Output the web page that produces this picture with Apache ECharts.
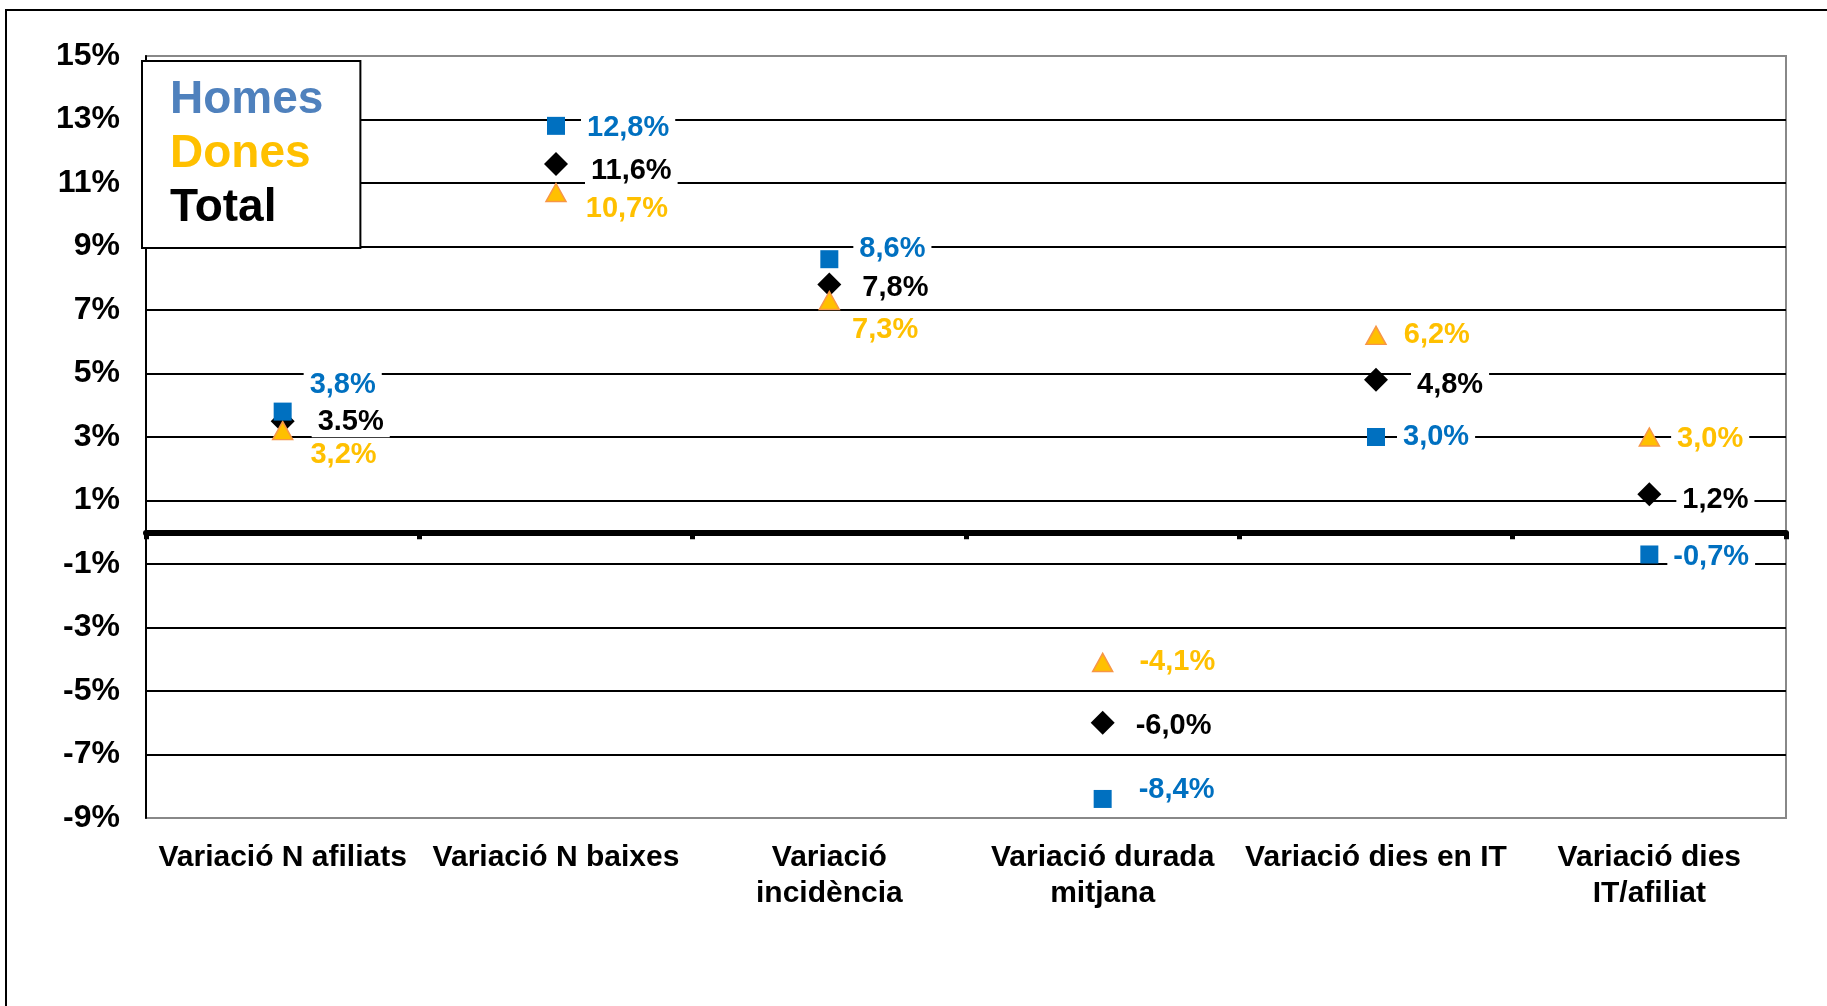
<!DOCTYPE html>
<html>
<head>
<meta charset="utf-8">
<script src="https://cdn.jsdelivr.net/npm/echarts@6/dist/echarts.min.js"></script>
<style>
  html, body { margin: 0; padding: 0; background: #fff; }
  #MyChart { width: 1827px; height: 1006px; }
</style>
</head>
<body>
<div id="MyChart"></div>
<script>
// dades llegides del gràfic
const categories = ['Variació N afiliats', 'Variació N baixes', 'Variació\nincidència',
  'Variació durada\nmitjana', 'Variació dies en IT', 'Variació dies\nIT/afiliat']
const homes = [3.8, 12.8, 8.6, -8.4, 3.0, -0.7]
const dones = [3.2, 10.7, 7.3, -4.1, 6.2, 3.0]
const total = [3.5, 11.6, 7.8, -6.0, 4.8, 1.2]
const homesText = ['3,8%', '12,8%', '8,6%', '-8,4%', '3,0%', '-0,7%']
const donesText = ['3,2%', '10,7%', '7,3%', '-4,1%', '6,2%', '3,0%']
const totalText = ['3.5%', '11,6%', '7,8%', '-6,0%', '4,8%', '1,2%']
const yMin = -9
const yMax = 15

// desplaçaments manuals de les etiquetes (com a l'Excel original)
const homesNudge = [[0, -27], [4, 2], [3, -10], [9, -9], [0, 0], [-3, 3]]
const donesNudge = [[0, 24], [2, 16], [-5, 30], [9, 0], [0, 0], [0, 2]]
const totalNudge = [[2, 1], [2, 7], [0, 3], [0, 3], [8, 5], [0, 6]]

const FONT = "'Liberation Sans', Arial, sans-serif"

function points (values, texts, nudges) {
  return values.map((v, i) => ({
    value: v,
    label: { formatter: texts[i], offset: nudges[i] }
  }))
}

// color de cada línia de la graella: només els valors senars
let gridColors = []
for (let v = yMin; v <= yMax; v++) {
  if (v === yMin || v === yMax) gridColors.push('#888')
  else if (Math.abs(v) % 2 === 1) gridColors.push('#000')
  else gridColors.push('rgba(0,0,0,0)')
}

function labelStyle (color, distance) {
  return {
    show: true,
    position: 'right',
    distance: distance,
    color: color,
    opacity: 1,
    fontSize: 29,
    fontWeight: 'bold',
    fontFamily: FONT,
    lineHeight: 30,
    backgroundColor: '#fff',
    padding: [0, 6]
  }
}

let myChart = echarts.init(document.getElementById('MyChart'))
let option = {
  animation: false,
  textStyle: { fontFamily: FONT },
  graphic: [{
    type: 'rect',
    silent: true,
    z: -10,
    shape: { x: 6, y: 10, width: 1900, height: 1100 },
    style: { fill: 'none', stroke: '#000', lineWidth: 2 }
  }],
  grid: {
    left: 146, right: 41, top: 56, bottom: 188,
    show: true, borderColor: '#888', borderWidth: 2
  },
  legend: {
    orient: 'vertical',
    left: 142,
    top: 61,
    selectedMode: false,
    itemWidth: 0,
    itemHeight: 0,
    itemGap: 0,
    data: [
      { name: 'Homes', textStyle: { color: '#4F81BD' } },
      { name: 'Dones', textStyle: { color: '#FFC000' } },
      { name: 'Total', textStyle: { color: '#000' } }
    ],
    textStyle: { fontSize: 46, fontWeight: 'bold', fontFamily: FONT, lineHeight: 54 },
    backgroundColor: '#fff',
    borderColor: '#000',
    borderWidth: 2,
    padding: [12, 37, 13, 22]
  },
  xAxis: [
    {
      type: 'category',
      data: categories,
      position: 'bottom',
      axisLine: { show: false, onZero: false },
      axisTick: { show: false },
      splitLine: { show: false },
      axisLabel: {
        interval: 0,
        margin: 22,
        color: '#000',
        fontSize: 30,
        fontWeight: 'bold',
        fontFamily: FONT,
        lineHeight: 36
      }
    },
    {
      type: 'category',
      data: categories,
      position: 'bottom',
      axisLine: { show: true, onZero: true, lineStyle: { color: '#000', width: 6 } },
      axisTick: { show: true, length: 7, lineStyle: { color: '#000', width: 5 } },
      axisLabel: { show: false },
      splitLine: { show: false }
    }
  ],
  yAxis: {
    type: 'value',
    min: yMin,
    max: yMax,
    interval: 1,
    axisLine: { show: true, lineStyle: { color: '#000', width: 2 } },
    axisTick: { show: false },
    axisLabel: {
      margin: 26,
      color: '#000',
      fontSize: 32,
      fontWeight: 'bold',
      fontFamily: FONT,
      formatter: v => (Math.abs(v) % 2 === 1 ? v + '%' : '')
    },
    splitLine: { show: true, lineStyle: { color: gridColors, width: 2 } }
  },
  series: [
    {
      name: 'Total',
      type: 'scatter',
      symbol: 'diamond',
      symbolSize: 24,
      itemStyle: { color: '#000', opacity: 1 },
      label: labelStyle('#000', 15),
      data: points(total, totalText, totalNudge)
    },
    {
      name: 'Dones',
      type: 'scatter',
      symbol: 'triangle',
      symbolSize: [20, 18],
      itemStyle: { color: '#FFC000', borderColor: '#F79646', borderWidth: 1.5, opacity: 1 },
      label: labelStyle('#FFC000', 11),
      data: points(dones, donesText, donesNudge)
    },
    {
      name: 'Homes',
      type: 'scatter',
      symbol: 'rect',
      symbolSize: 18,
      itemStyle: { color: '#0070C0', opacity: 1 },
      label: labelStyle('#0070C0', 12),
      data: points(homes, homesText, homesNudge)
    }
  ]
}
myChart.setOption(option)
</script>
</body>
</html>
